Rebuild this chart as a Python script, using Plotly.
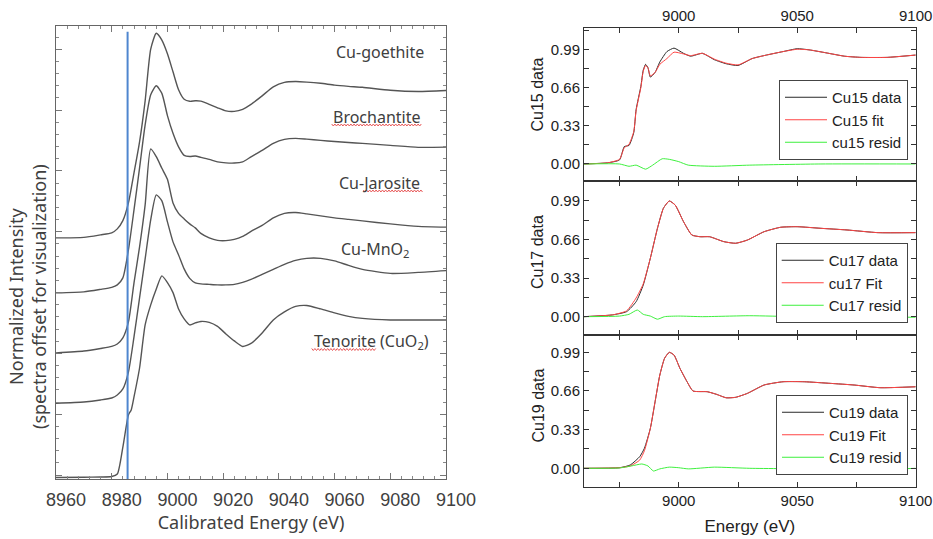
import plotly.graph_objects as go

# ---------------- left panel: reference XANES spectra (offset) ----------------
GRID = [8960, 8970, 8976, 8980, 8982, 8984, 8986, 8988, 8990, 8992, 8994, 8996, 8998,
        9000, 9002, 9004, 9006, 9008, 9010, 9012, 9015, 9018, 9021, 9024, 9027, 9030,
        9034, 9038, 9042, 9046, 9050, 9055, 9060, 9065, 9070, 9080, 9090, 9100]

goethite = [3.900, 3.908, 3.949, 3.982, 4.048, 4.183, 4.475, 4.969, 5.479, 6.153, 7.003, 7.263, 7.150,
            6.926, 6.630, 6.334, 6.178, 6.145, 6.153, 6.148, 6.095, 6.038, 5.988, 5.980, 6.013, 6.095,
            6.235, 6.383, 6.457, 6.470, 6.461, 6.441, 6.411, 6.391, 6.375, 6.326, 6.306, 6.322]
brochantite = [2.995, 3.012, 3.053, 3.086, 3.127, 3.242, 3.702, 4.360, 5.051, 5.758, 6.252, 6.400, 6.276,
               5.910, 5.618, 5.396, 5.257, 5.237, 5.245, 5.224, 5.191, 5.150, 5.133, 5.130, 5.150, 5.232,
               5.339, 5.454, 5.520, 5.536, 5.523, 5.503, 5.484, 5.467, 5.454, 5.421, 5.388, 5.391]
jarosite = [2.009, 2.041, 2.082, 2.115, 2.156, 2.255, 2.518, 3.160, 3.752, 4.442, 5.362, 5.234, 5.044,
            4.862, 4.475, 4.303, 4.212, 4.130, 4.064, 3.974, 3.900, 3.859, 3.855, 3.875, 3.924, 4.007,
            4.105, 4.229, 4.303, 4.316, 4.294, 4.261, 4.229, 4.204, 4.179, 4.130, 4.089, 4.076]
mno2 = [1.181, 1.202, 1.235, 1.268, 1.317, 1.416, 1.694, 2.271, 2.913, 3.554, 4.196, 4.607, 4.508,
        4.163, 3.834, 3.620, 3.390, 3.234, 3.160, 3.143, 3.135, 3.127, 3.127, 3.135, 3.168, 3.217,
        3.299, 3.382, 3.464, 3.530, 3.563, 3.563, 3.521, 3.447, 3.382, 3.316, 3.332, 3.362]

GRID_TEN = [8960, 8970, 8976, 8980, 8982, 8984, 8986, 8987, 8988, 8990, 8992, 8994, 8996, 8998,
            9000, 9002, 9004, 9006, 9008, 9010, 9012, 9015, 9018, 9021, 9024, 9027, 9030,
            9034, 9038, 9042, 9046, 9050, 9055, 9060, 9065, 9070, 9080, 9090, 9100]
tenorite = [-0.039, -0.036, -0.031, -0.023, 0.018, 0.461, 0.989, 1.071, 1.285, 1.761, 2.469, 2.798, 3.061, 3.275,
            3.164, 3.000, 2.730, 2.567, 2.469, 2.502, 2.526, 2.510, 2.444, 2.321, 2.206, 2.115, 2.164,
            2.337, 2.551, 2.683, 2.773, 2.789, 2.732, 2.666, 2.609, 2.576, 2.551, 2.551, 2.551]

EDGE_LINE_E = 8985.7

# ---------------- right panels: LCF fits ----------------
E15 = [8960, 8970, 8975, 8977, 8979, 8981, 8982, 8984, 8985, 8986, 8987, 8988, 8990, 8992, 8995, 8998,
       9002, 9005, 9010, 9015, 9020, 9025, 9031, 9037, 9044, 9050, 9055, 9062, 9070, 9077, 9088, 9100]
cu15_data = [0.0, 0.01, 0.035, 0.15, 0.16, 0.27, 0.47, 0.67, 0.81, 0.86, 0.83, 0.75, 0.79, 0.88, 0.97, 1.0,
             0.955, 0.93, 0.955, 0.90, 0.865, 0.85, 0.91, 0.94, 0.97, 0.995, 0.985, 0.96, 0.93, 0.92, 0.92, 0.94]
cu15_fit = [0.0, 0.01, 0.04, 0.14, 0.17, 0.28, 0.46, 0.66, 0.80, 0.85, 0.83, 0.76, 0.79, 0.86, 0.91, 0.965,
            0.95, 0.935, 0.955, 0.905, 0.87, 0.855, 0.91, 0.94, 0.97, 0.99, 0.985, 0.96, 0.93, 0.92, 0.92, 0.94]
E15_res = [8960, 8975, 8979, 8982, 8986, 8989, 8993, 8996, 9000, 9004, 9015, 9030, 9060, 9100]
cu15_resid = [0, 0, -0.02, -0.01, -0.045, -0.01, 0.045, 0.04, 0.02, -0.01, -0.02, -0.01, 0, 0]

E17 = [8960, 8972, 8978, 8982, 8985, 8988, 8991, 8993.5, 8996, 8998.5, 9002, 9005.5, 9009, 9013, 9019,
       9024, 9029, 9036, 9043, 9050, 9060, 9071, 9084, 9100]
cu17_data = [0, 0.015, 0.043, 0.128, 0.27, 0.50, 0.756, 0.927, 0.99, 0.955, 0.813, 0.699, 0.684, 0.684, 0.642,
             0.628, 0.656, 0.727, 0.765, 0.77, 0.756, 0.742, 0.719, 0.719]
cu17_fit = [0, 0.015, 0.05, 0.16, 0.28, 0.50, 0.756, 0.927, 0.99, 0.955, 0.813, 0.699, 0.684, 0.684, 0.642,
            0.628, 0.656, 0.727, 0.765, 0.77, 0.756, 0.742, 0.719, 0.719]
E17_res = [8960, 8975, 8979, 8982.5, 8985, 8988, 8991, 8994, 9000, 9010, 9030, 9050, 9100]
cu17_resid = [0, 0.005, 0.02, 0.057, 0.02, 0.005, -0.022, 0.0, 0.005, 0.0, 0.008, 0.0, -0.005]

E19 = [8960, 8975, 8979.5, 8983.5, 8985.5, 8988, 8990, 8992, 8994, 8996, 8998, 9000.5, 9003.5, 9006, 9012,
       9016, 9020, 9024, 9029, 9036, 9044, 9053, 9064, 9074, 9085, 9100]
cu19_data = [0, 0.005, 0.028, 0.099, 0.171, 0.341, 0.568, 0.796, 0.939, 0.99, 0.967, 0.853, 0.739, 0.66, 0.654,
             0.631, 0.602, 0.606, 0.64, 0.711, 0.739, 0.739, 0.725, 0.711, 0.688, 0.696]
cu19_fit = [0, 0.005, 0.02, 0.07, 0.15, 0.34, 0.57, 0.796, 0.939, 0.99, 0.967, 0.853, 0.739, 0.66, 0.654,
            0.631, 0.602, 0.606, 0.64, 0.711, 0.739, 0.739, 0.725, 0.711, 0.688, 0.696]
E19_res = [8960, 8975, 8980, 8984.4, 8987, 8989.3, 8992, 8996, 9000, 9004, 9015, 9030, 9060, 9085, 9100]
cu19_resid = [0, 0.003, 0.02, 0.037, 0.02, -0.023, -0.005, 0.01, 0.005, -0.005, 0.01, 0.0, -0.005, -0.01, 0]

Y_TICKS = [0.0, 0.33, 0.66, 0.99]

# ---------------- figure ----------------
W, H = 933, 539
fig = go.Figure()

GRAY = "#555555"
for xs, ys in [(GRID, goethite), (GRID, brochantite), (GRID, jarosite), (GRID, mno2), (GRID_TEN, tenorite)]:
    fig.add_trace(go.Scatter(x=xs, y=ys, mode="lines", showlegend=False,
                             line=dict(color=GRAY, width=1.4, shape="spline", smoothing=0.6),
                             xaxis="x", yaxis="y", hoverinfo="skip"))

fig.add_trace(go.Scatter(x=[EDGE_LINE_E, EDGE_LINE_E], y=[-0.064, 7.29], mode="lines", showlegend=False,
                         line=dict(color="#4f86cf", width=2), xaxis="x", yaxis="y"))

DATA_C, FIT_C, RES_C = "#2a2a2a", "#ff4545", "#3ef03e"
panels = [
    ("x2", "y2", "legend", E15, cu15_data, cu15_fit, E15_res, cu15_resid, ["Cu15 data", "Cu15 fit", "cu15 resid"]),
    ("x3", "y3", "legend2", E17, cu17_data, cu17_fit, E17_res, cu17_resid, ["Cu17 data", "cu17 Fit", "Cu17 resid"]),
    ("x4", "y4", "legend3", E19, cu19_data, cu19_fit, E19_res, cu19_resid, ["Cu19 data", "Cu19 Fit", "Cu19 resid"]),
]
for xa, ya, lg, ex, d, f, er, r, names in panels:
    fig.add_trace(go.Scatter(x=ex, y=d, name=names[0], mode="lines", legend=lg, xaxis=xa, yaxis=ya,
                             line=dict(color=DATA_C, width=1, shape="spline", smoothing=0.5)))
    fig.add_trace(go.Scatter(x=ex, y=f, name=names[1], mode="lines", legend=lg, xaxis=xa, yaxis=ya,
                             line=dict(color=FIT_C, width=1, shape="spline", smoothing=0.5)))
    fig.add_trace(go.Scatter(x=er, y=r, name=names[2], mode="lines", legend=lg, xaxis=xa, yaxis=ya,
                             line=dict(color=RES_C, width=1, shape="spline", smoothing=0.5)))

LFONT = "Noto Sans"
RFONT = "Liberation Sans"

left_x = dict(domain=[56 / W, 446 / W], range=[8960, 9100], anchor="y", tick0=8960, dtick=20,
              ticks="inside", ticklen=6, tickcolor="#777", showline=True, linecolor="#666", linewidth=1,
              mirror="allticks", showgrid=False, zeroline=False, automargin=False,
              minor=dict(ticks="inside", dtick=4, ticklen=3, tickcolor="#888"),
              tickfont=dict(family=RFONT, size=18, color="#404040"), ticklabelshift=10, ticklabelstandoff=4,
              title=dict(text="Calibrated Energy (eV)", font=dict(family=LFONT, size=18, color="#404040"),
                         standoff=5))
left_y = dict(domain=[1 - 479 / H, 1 - 26 / H], range=[-0.064, 7.383], anchor="x", tick0=0, dtick=1,
              showticklabels=False, ticks="inside", ticklen=6, tickcolor="#777", showline=True,
              linecolor="#666", linewidth=1, mirror="allticks", showgrid=False, zeroline=False,
              automargin=False, minor=dict(ticks="inside", dtick=0.2, ticklen=3, tickcolor="#888"))


def rx(anchor, showlabels, side="bottom", title=None):
    d = dict(domain=[584 / W, 915.7 / W], range=[8960, 9100], anchor=anchor, tick0=9000, dtick=50,
             ticks="inside", ticklen=5, tickcolor="#333", showline=True, linecolor="#333", linewidth=1,
             mirror="allticks", showgrid=False, zeroline=False, automargin=False, side=side,
             showticklabels=showlabels, minor=dict(ticks="inside", dtick=25, ticklen=5, tickcolor="#333"),
             tickfont=dict(family=RFONT, size=15, color="#222"))
    if title:
        d["title"] = dict(text=title, font=dict(family=RFONT, size=17, color="#222"), standoff=12)
    return d


def ry(anchor, top_px, bot_px, rng):
    return dict(domain=[1 - bot_px / H, 1 - top_px / H], range=rng, anchor=anchor, tickvals=Y_TICKS,
                tickformat=".2f", ticks="inside", ticklen=5, tickcolor="#333", showline=True,
                linecolor="#333", linewidth=1, mirror="allticks", showgrid=False, zeroline=False,
                automargin=False, minor=dict(ticks="inside", tick0=0, dtick=0.165, ticklen=5, tickcolor="#333"),
                tickfont=dict(family=RFONT, size=15, color="#222"))


legend_style = dict(xanchor="right", yanchor="top", bgcolor="white", bordercolor="#444", borderwidth=1,
                    font=dict(family=RFONT, size=15, color="#222"), tracegroupgap=0, itemwidth=42)

annotations = [
    dict(x=9076.3, y=6.954, text="Cu-goethite"),
    dict(x=9075.1, y=5.885, text="Brochantite"),
    dict(x=9076.3, y=4.799, text="Cu-Jarosite"),
    dict(x=9074.5, y=3.702, text="Cu-MnO<sub>2</sub>"),
    dict(x=9073.3, y=2.194, text="Tenorite (CuO<sub>2</sub>)"),
]
for a in annotations:
    a.update(xref="x", yref="y", showarrow=False, xanchor="center", yanchor="middle",
             font=dict(family=LFONT, size=16, color="#404040"))

annotations += [
    dict(x=28 / W, y=1 - 297 / H, xref="paper", yref="paper", showarrow=False, textangle=-90,
         xanchor="center", yanchor="middle", align="center",
         text="Normalized Intensity<br>(spectra offset for visualization)",
         font=dict(family=LFONT, size=18, color="#404040")),
]
for label, yc in [("Cu15 data", 95), ("Cu17 data", 252.5), ("Cu19 data", 406)]:
    annotations.append(dict(x=537.5 / W, y=1 - yc / H, xref="paper", yref="paper", showarrow=False,
                            textangle=-90, xanchor="center", yanchor="middle", text=label,
                            font=dict(family=RFONT, size=16, color="#222")))


# red wavy "spell-check" underlines under some words (decoration, in page pixels)
def wavy(x0, x1, y, amp=1.0, step=1.6):
    pts, x, i = [], x0, 0
    while x <= x1:
        yy = y + (amp if i % 2 else -amp)
        pts.append(f"{x / W:.5f},{1 - yy / H:.5f}")
        x += step
        i += 1
    return "M " + " L ".join(pts)


shapes = [dict(type="path", xref="paper", yref="paper", path=wavy(x0, x1, y),
               line=dict(color="#e85a5a", width=1))
          for x0, x1, y in [(331.7, 421.7, 125.0), (363.3, 423.3, 191.0), (311.7, 376.7, 349.5)]]

fig.update_layout(
    width=W, height=H, margin=dict(l=0, r=0, t=0, b=0),
    paper_bgcolor="white", plot_bgcolor="white",
    xaxis=left_x, yaxis=left_y,
    xaxis2=rx("y2", True, side="top"), yaxis2=ry("x2", 28.3, 181, [-0.147, 1.171]),
    xaxis3=rx("y3", False), yaxis3=ry("x3", 181, 335, [-0.157, 1.161]),
    xaxis4=rx("y4", True, title="Energy (eV)"), yaxis4=ry("x4", 335, 486.7, [-0.157, 1.138]),
    legend=dict(x=908 / W, y=1 - 80 / H, **legend_style),
    legend2=dict(x=907.7 / W, y=1 - 243 / H, **legend_style),
    legend3=dict(x=908 / W, y=1 - 395 / H, **legend_style),
    annotations=annotations,
    shapes=shapes,
    showlegend=True,
)

fig.write_html("out.html", config={"displayModeBar": False},
               post_script="document.body.style.margin='0';")
